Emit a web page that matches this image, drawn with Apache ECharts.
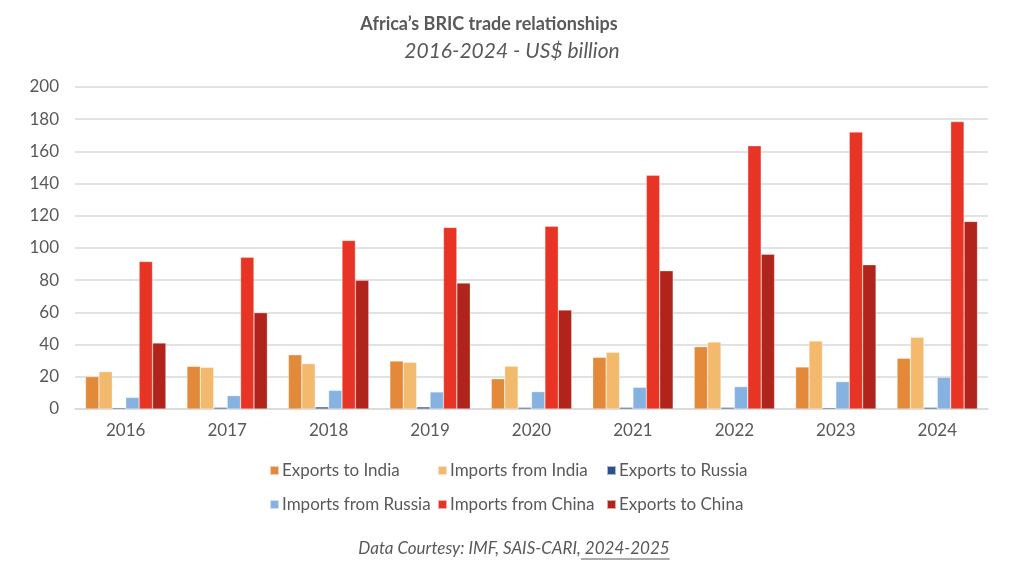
<!DOCTYPE html>
<html><head><meta charset="utf-8">
<script src="https://cdn.jsdelivr.net/npm/echarts@6/dist/echarts.min.js"></script>
<style>html,body{margin:0;padding:0;background:#fff}#c{width:1022px;height:576px}</style>
</head><body><div id="c"></div>
<script>
const years = ['2016','2017','2018','2019','2020','2021','2022','2023','2024'];
const exportsToIndia    = [20.1, 26.5, 33.7, 29.8, 18.8, 32.1, 38.7, 26.1, 31.5];
const importsFromIndia  = [23.2, 25.9, 28.2, 29.0, 26.6, 35.2, 41.6, 42.2, 44.5];
const exportsToRussia   = [0.8, 1.0, 1.3, 1.3, 1.0, 1.0, 1.0, 0.8, 1.0];
const importsFromRussia = [7.2, 8.3, 11.6, 10.6, 10.8, 13.5, 13.9, 17.0, 19.7];
const importsFromChina  = [91.6, 94.2, 104.7, 112.8, 113.5, 145.2, 163.5, 172.0, 178.5];
const exportsToChina    = [41.0, 59.8, 79.9, 78.2, 61.5, 85.9, 96.1, 89.6, 116.5];
const yTicks = [0, 20, 40, 60, 80, 100, 120, 140, 160, 180, 200];

const seriesDefs = [
  ['Exports to India', exportsToIndia, '#E3893A'],
  ['Imports from India', importsFromIndia, '#F3B96C'],
  ['Exports to Russia', exportsToRussia, '#2B5286'],
  ['Imports from Russia', importsFromRussia, '#86B2E2'],
  ['Imports from China', importsFromChina, '#E83425'],
  ['Exports to China', exportsToChina, '#B0241B']
];
const txt = '#595959';
const font = 'Lato, "Open Sans", sans-serif';
const legendBase = {
  orient: 'vertical', top: 457, itemGap: 17, itemWidth: 9, itemHeight: 9, icon: 'rect',
  selectedMode: false, textStyle: {color: txt, fontSize: 17, fontFamily: font, padding: [0,0,0,-2]}
};
const footText = 'Data Courtesy: IMF, SAIS-CARI, 2024-2025';
const footPre = 'Data Courtesy: IMF, SAIS-CARI,';
const footFont = 'italic 17px ' + font;
const cv = document.createElement('canvas').getContext('2d');
cv.font = footFont;
const W = cv.measureText(footText).width, P = cv.measureText(footPre).width;
const x0 = 514 - W/2;

const chart = echarts.init(document.getElementById('c'));
chart.setOption({
  animation: false,
  textStyle: {fontFamily: font},
  title: [
    {text: 'Africa\u2019s BRIC trade relationships', left: 484, textAlign: 'center', top: 10,
     textStyle: {color: txt, fontSize: 18, fontWeight: 'bold', fontFamily: font}},
    {text: '2016-2024 - US$ billion', left: 507, textAlign: 'center', top: 36,
     textStyle: {color: txt, fontSize: 21, fontWeight: 'normal', fontStyle: 'italic', fontFamily: font}}
  ],
  legend: [
    Object.assign({}, legendBase, {left: 264, data: ['Exports to India', 'Imports from Russia']}),
    Object.assign({}, legendBase, {left: 432, data: ['Imports from India', 'Imports from China']}),
    Object.assign({}, legendBase, {left: 601, data: ['Exports to Russia', 'Exports to China']})
  ],
  grid: {left: 75, right: 34, top: 87, bottom: 167, containLabel: false},
  xAxis: {
    type: 'category', data: years,
    axisLine: {lineStyle: {color: '#d9d9d9', width: 1.5}},
    axisTick: {show: false},
    axisLabel: {color: txt, fontSize: 17, margin: 13, fontFamily: font}
  },
  yAxis: {
    type: 'value', min: yTicks[0], max: yTicks[yTicks.length-1], interval: 20,
    axisLine: {show: false}, axisTick: {show: false},
    splitLine: {lineStyle: {color: '#d9d9d9', width: 1.5}},
    axisLabel: {color: txt, fontSize: 17, margin: 16, fontFamily: font}
  },
  series: seriesDefs.map(([name, data, color]) => ({
    name, type: 'bar', data, barWidth: 13.4, barGap: '0%',
    itemStyle: {color, borderColor: 'rgba(255,255,255,0.6)', borderWidth: 0.5}
  })),
  graphic: [
    {type: 'text', left: x0, top: 540, style: {text: footText, fill: txt, fontSize: 17, fontStyle: 'italic', fontFamily: font}},
    {type: 'line', shape: {x1: x0 + P, y1: 559, x2: x0 + W, y2: 559}, style: {stroke: txt, lineWidth: 1}}
  ]
});
</script></body></html>
